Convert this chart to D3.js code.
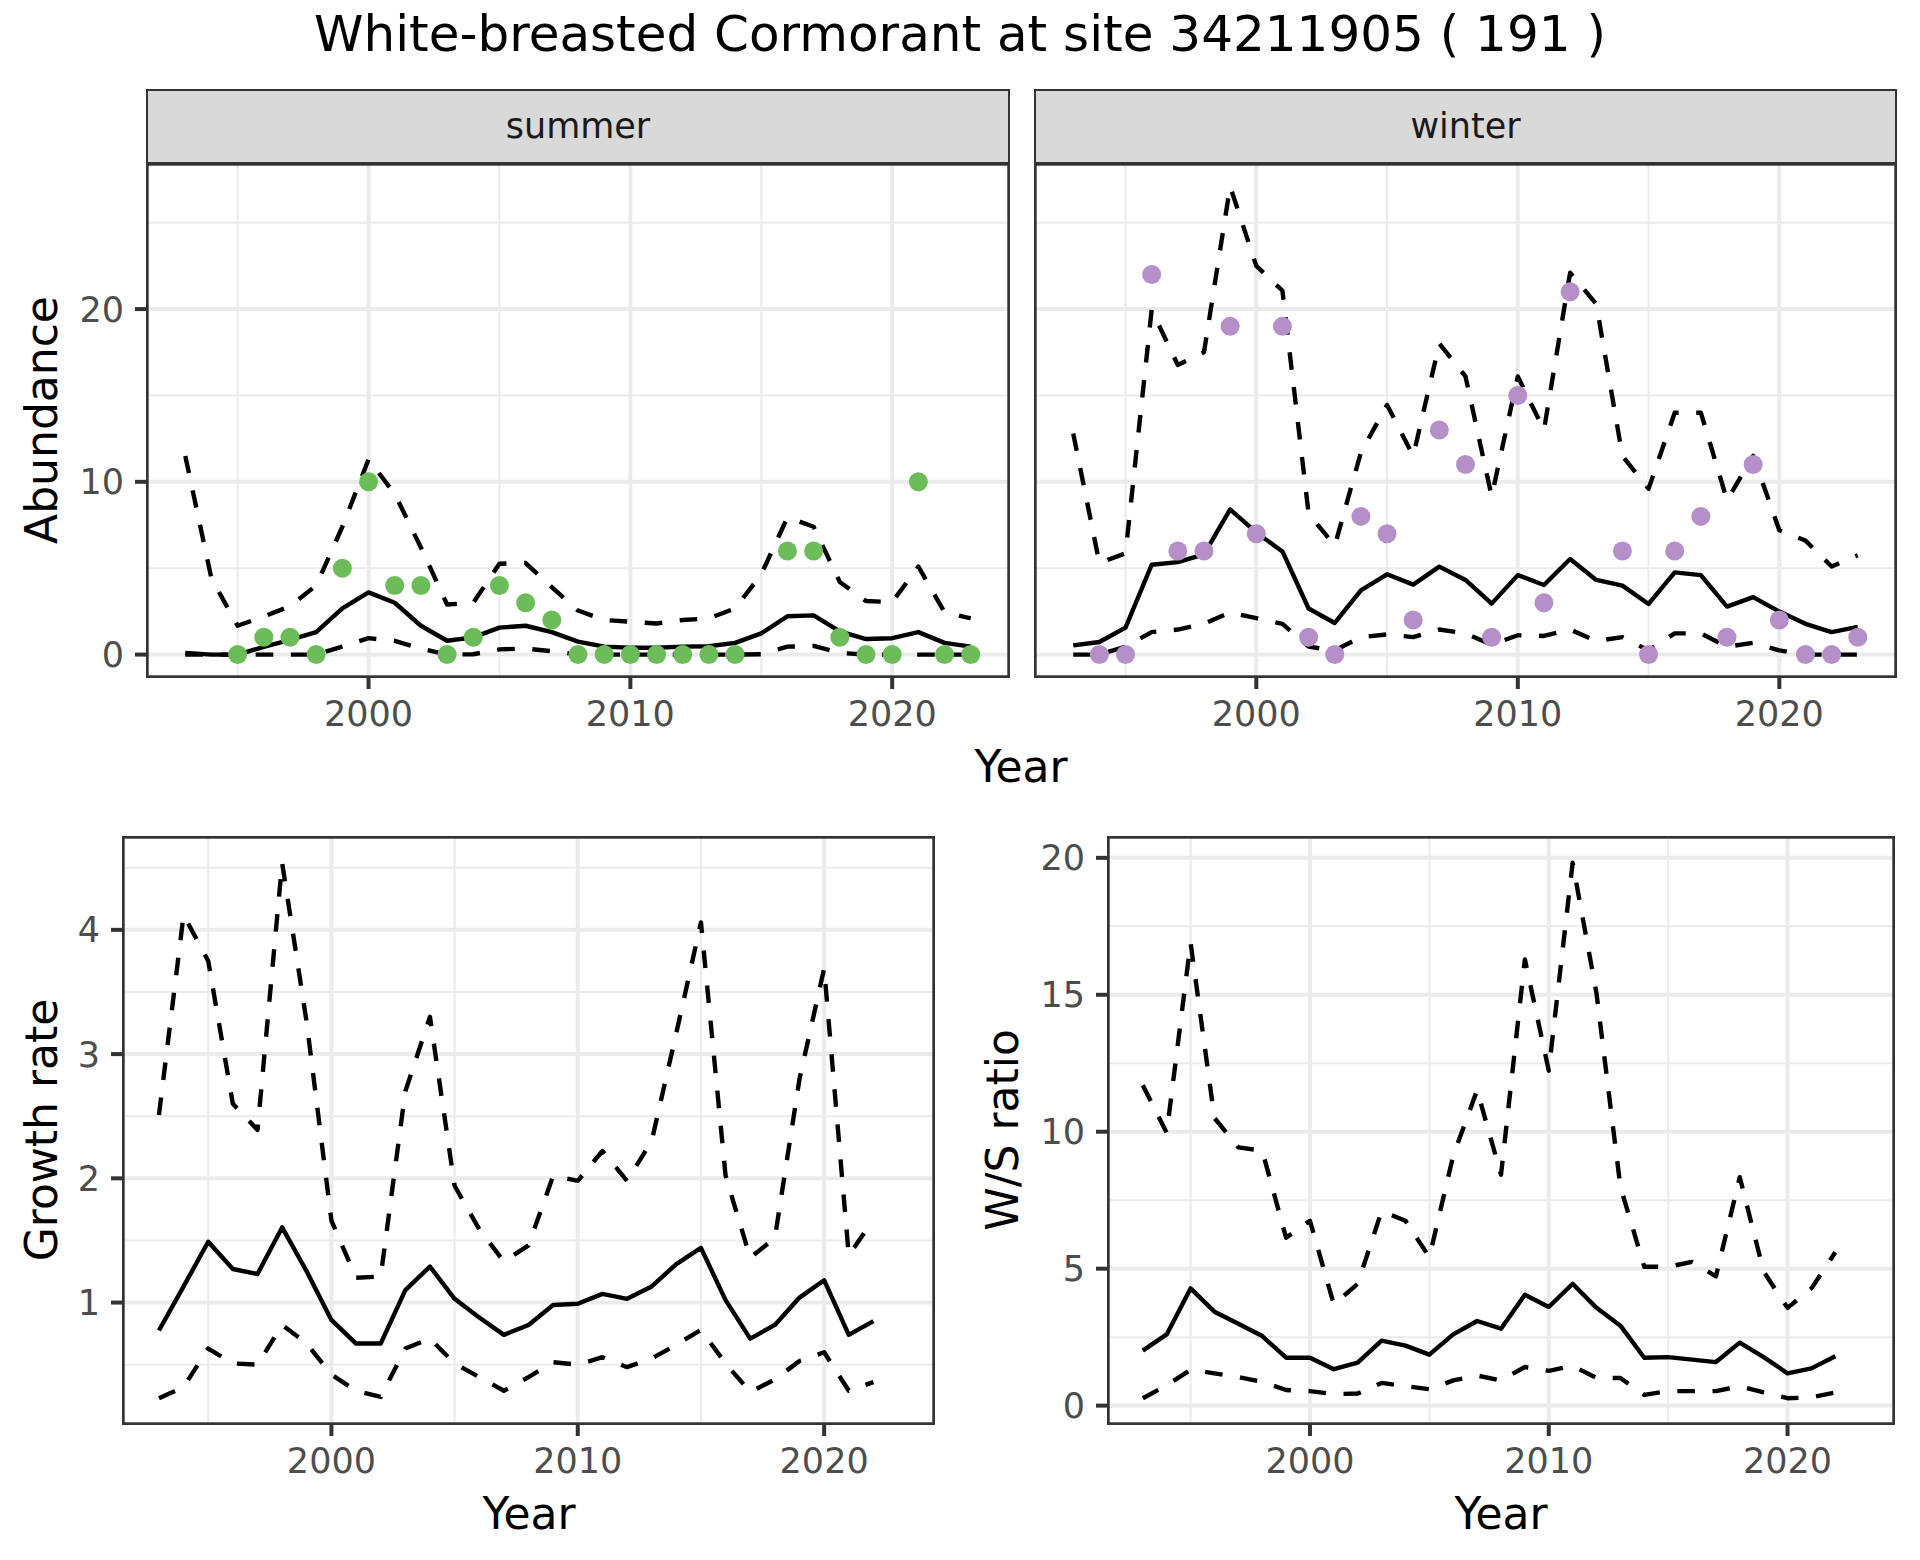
<!DOCTYPE html>
<html>
<head>
<meta charset="utf-8">
<script src="https://cdn.jsdelivr.net/npm/d3@7"></script>
<style>
  body { margin: 0; background: #fff; }
  svg { display: block; font-family: "DejaVu Sans", sans-serif; }
</style>
</head>
<body>
<svg id="chart"></svg>
<script>
// years of the modelled series
const years = [1993, 1994, 1995, 1996, 1997, 1998, 1999, 2000, 2001, 2002, 2003, 2004, 2005, 2006, 2007,
  2008, 2009, 2010, 2011, 2012, 2013, 2014, 2015, 2016, 2017, 2018, 2019, 2020, 2021, 2022, 2023];

// summer abundance
const summerMed = [0.1, 0.0, 0.0, 0.45, 0.85, 1.3, 2.67, 3.6, 3.0, 1.67, 0.8, 1.0, 1.56, 1.67, 1.3, 0.75,
  0.46, 0.4, 0.4, 0.46, 0.48, 0.68, 1.23, 2.22, 2.27, 1.34, 0.9, 0.95, 1.3, 0.68, 0.46];
const summerHi = [11.5, 4.4, 1.67, 2.2, 2.8, 4.0, 7.4, 11.3, 9.3, 6.2, 2.9, 3.0, 5.26, 5.3, 3.9, 2.55,
  2.0, 1.9, 1.8, 2.0, 2.1, 2.67, 4.65, 7.95, 7.4, 4.2, 3.1, 3.04, 5.1, 2.45, 2.1];
const summerLo = [0, 0, 0, 0, 0, 0, 0.46, 0.95, 0.8, 0.35, 0, 0.02, 0.3, 0.35, 0.2, 0,
  0, 0, 0, 0, 0, 0, 0.02, 0.46, 0.5, 0.1, 0, 0, 0, 0, 0];
const summerObsYears = [1995, 1996, 1997, 1998, 1999, 2000, 2001, 2002, 2003, 2004, 2005, 2006, 2007, 2008,
  2009, 2010, 2011, 2012, 2013, 2014, 2016, 2017, 2018, 2019, 2020, 2021, 2022, 2023];
const summerCounts = [0, 1, 1, 0, 5, 10, 4, 4, 0, 1, 4, 3, 2, 0,
  0, 0, 0, 0, 0, 0, 6, 6, 1, 0, 0, 10, 0, 0];

// winter abundance
const winterMed = [0.53, 0.73, 1.56, 5.2, 5.35, 5.8, 8.4, 7.07, 5.97, 2.67, 1.83, 3.72, 4.65, 4.05, 5.09, 4.32,
  2.95, 4.6, 4.03, 5.53, 4.32, 3.99, 2.93, 4.76, 4.6, 2.78, 3.33, 2.49, 1.78, 1.3, 1.6];
const winterHi = [12.8, 5.3, 5.86, 19.96, 16.76, 17.5, 27.1, 22.5, 21.06, 8.17, 6.3, 11.7, 14.45, 11.5, 18.0, 16.1,
  9.16, 16.1, 13.0, 22.1, 20.3, 11.5, 9.6, 14.0, 14.0, 8.94, 11.5, 7.2, 6.6, 5.1, 5.75];
const winterLo = [0, 0, 0.46, 1.3, 1.45, 1.78, 2.44, 2.11, 1.78, 0.46, 0.24, 1.01, 1.17, 1.01, 1.45, 1.23,
  0.57, 1.12, 1.08, 1.45, 0.79, 1.01, 0.24, 1.23, 1.23, 0.46, 0.68, 0.24, 0, 0, 0];
const winterObsYears = [1994, 1995, 1996, 1997, 1998, 1999, 2000, 2001, 2002, 2003, 2004, 2005, 2006, 2007,
  2008, 2009, 2010, 2011, 2012, 2014, 2015, 2016, 2017, 2018, 2019, 2020, 2021, 2022, 2023];
const winterCounts = [0, 0, 22, 6, 6, 19, 7, 19, 1, 0, 8, 7, 2, 13,
  11, 1, 15, 3, 21, 6, 0, 6, 8, 1, 11, 2, 0, 0, 1];

// growth rate and W/S ratio, 1993-2022
const rateYears = [1993, 1994, 1995, 1996, 1997, 1998, 1999, 2000, 2001, 2002, 2003, 2004, 2005, 2006, 2007,
  2008, 2009, 2010, 2011, 2012, 2013, 2014, 2015, 2016, 2017, 2018, 2019, 2020, 2021, 2022];
const growthMed = [0.775, 1.13, 1.49, 1.27, 1.23, 1.605, 1.25, 0.86, 0.67, 0.67, 1.1, 1.29, 1.03, 0.88, 0.74,
  0.82, 0.98, 0.99, 1.07, 1.03, 1.13, 1.31, 1.44, 1.02, 0.71, 0.82, 1.04, 1.18, 0.74, 0.85];
const growthHi = [2.51, 4.12, 3.75, 2.6, 2.39, 4.54, 3.25, 1.66, 1.2, 1.21, 2.7, 3.3, 1.94, 1.59, 1.33,
  1.46, 2.02, 1.98, 2.22, 1.98, 2.3, 3.17, 4.06, 2.02, 1.36, 1.52, 2.8, 3.69, 1.38, 1.67];
const growthLo = [0.23, 0.32, 0.63, 0.51, 0.5, 0.82, 0.67, 0.42, 0.29, 0.24, 0.63, 0.71, 0.51, 0.4, 0.29,
  0.4, 0.52, 0.5, 0.56, 0.48, 0.55, 0.66, 0.78, 0.51, 0.28, 0.38, 0.53, 0.6, 0.29, 0.36];
const ratioMed = [2.01, 2.6, 4.28, 3.43, 2.99, 2.54, 1.75, 1.75, 1.33, 1.57, 2.37, 2.19, 1.86, 2.6, 3.09,
  2.81, 4.05, 3.6, 4.45, 3.57, 2.92, 1.75, 1.77, 1.68, 1.59, 2.3, 1.77, 1.18, 1.36, 1.8];
const ratioHi = [11.7, 9.96, 16.9, 10.5, 9.43, 9.31, 6.13, 6.75, 3.69, 4.45, 7.1, 6.75, 5.42, 9.13, 11.52,
  8.43, 16.29, 12.23, 19.82, 15.05, 7.99, 5.07, 5.07, 5.25, 4.72, 8.34, 4.89, 3.57, 4.28, 5.6];
const ratioLo = [0.27, 0.74, 1.31, 1.18, 1.04, 0.87, 0.57, 0.53, 0.42, 0.44, 0.83, 0.71, 0.6, 0.92, 1.1,
  0.92, 1.41, 1.27, 1.45, 1.01, 1.01, 0.39, 0.53, 0.53, 0.53, 0.71, 0.48, 0.27, 0.3, 0.48];

const xMajor = [2000, 2010, 2020];
const xMinor = [1995, 2005, 2015];
const abundMajor = [0, 10, 20];
const abundMinor = [5, 15, 25];
const growthMajor = [1, 2, 3, 4];
const growthMinor = [0.5, 1.5, 2.5, 3.5, 4.5];
const ratioMajor = [0, 5, 10, 15, 20];
const ratioMinor = [2.5, 7.5, 12.5, 17.5];

const titleText = 'White-breasted Cormorant at site 34211905 ( 191 )';
const summerColor = '#6cbd5a';
const winterColor = '#b58fc7';

const W = 1920, H = 1560;
const svg = d3.select('#chart').attr('width', W).attr('height', H);
svg.append('rect').attr('width', W).attr('height', H).attr('fill', '#fff');

function expand(ext) {
  const pad = (ext[1] - ext[0]) * 0.05;
  return [ext[0] - pad, ext[1] + pad];
}

const xDomain = expand(d3.extent(years));
const abundDomain = expand(d3.extent([].concat(summerHi, summerLo, winterHi, winterLo, summerCounts, winterCounts)));
const growthDomain = expand(d3.extent([].concat(growthHi, growthLo)));
const ratioDomain = expand(d3.extent([].concat(ratioHi, ratioLo)));

let clipId = 0;

// one ggplot-like panel
function panel(opts) {
  const x = d3.scaleLinear().domain(xDomain).range([opts.x0, opts.x1]);
  const y = d3.scaleLinear().domain(opts.yDomain).range([opts.y1, opts.y0]);
  const g = svg.append('g');
  const id = 'clip' + (clipId++);
  g.append('clipPath').attr('id', id).append('rect')
    .attr('x', opts.x0).attr('y', opts.y0)
    .attr('width', opts.x1 - opts.x0).attr('height', opts.y1 - opts.y0);
  const inner = g.append('g').attr('clip-path', 'url(#' + id + ')');

  inner.selectAll('.hmin').data(opts.yMinor).join('line')
    .attr('x1', opts.x0).attr('x2', opts.x1)
    .attr('y1', d => y(d)).attr('y2', d => y(d))
    .attr('stroke', '#ebebeb').attr('stroke-width', 2);
  inner.selectAll('.vmin').data(xMinor).join('line')
    .attr('y1', opts.y0).attr('y2', opts.y1)
    .attr('x1', d => x(d)).attr('x2', d => x(d))
    .attr('stroke', '#ebebeb').attr('stroke-width', 2);
  inner.selectAll('.hmaj').data(opts.yMajor).join('line')
    .attr('x1', opts.x0).attr('x2', opts.x1)
    .attr('y1', d => y(d)).attr('y2', d => y(d))
    .attr('stroke', '#ebebeb').attr('stroke-width', 4);
  inner.selectAll('.vmaj').data(xMajor).join('line')
    .attr('y1', opts.y0).attr('y2', opts.y1)
    .attr('x1', d => x(d)).attr('x2', d => x(d))
    .attr('stroke', '#ebebeb').attr('stroke-width', 4);

  const line = d3.line().x(d => x(d[0])).y(d => y(d[1]));
  for (const s of opts.series) {
    inner.append('path')
      .datum(s.yrs.map((yr, i) => [yr, s.vals[i]]))
      .attr('d', line)
      .attr('fill', 'none')
      .attr('stroke', '#000')
      .attr('stroke-width', 4.4)
      .attr('stroke-linejoin', 'round')
      .attr('stroke-dasharray', s.dashed ? '17.6,17.6' : null);
  }
  if (opts.points) {
    inner.selectAll('circle').data(opts.points.yrs).join('circle')
      .attr('cx', d => x(d))
      .attr('cy', (d, i) => y(opts.points.vals[i]))
      .attr('r', 9.5)
      .attr('fill', opts.points.color);
  }

  g.append('rect')
    .attr('x', opts.x0 + 1.35).attr('y', opts.y0 + 1.35)
    .attr('width', opts.x1 - opts.x0 - 2.7).attr('height', opts.y1 - opts.y0 - 2.7)
    .attr('fill', 'none').attr('stroke', '#333333').attr('stroke-width', 2.7);

  // x axis
  g.selectAll('.xt').data(xMajor).join('line')
    .attr('x1', d => x(d)).attr('x2', d => x(d))
    .attr('y1', opts.y1).attr('y2', opts.y1 + 11)
    .attr('stroke', '#333333').attr('stroke-width', 4);
  g.selectAll('.xl').data(xMajor).join('text')
    .attr('x', d => x(d)).attr('y', opts.y1 + 48)
    .attr('text-anchor', 'middle')
    .attr('font-size', 35).attr('fill', '#4d4d4d')
    .text(d => d);

  // y axis
  if (opts.yAxis) {
    g.selectAll('.yt').data(opts.yMajor).join('line')
      .attr('x1', opts.x0 - 11).attr('x2', opts.x0)
      .attr('y1', d => y(d)).attr('y2', d => y(d))
      .attr('stroke', '#333333').attr('stroke-width', 4);
    g.selectAll('.yl').data(opts.yMajor).join('text')
      .attr('x', opts.x0 - 22).attr('y', d => y(d))
      .attr('dy', '0.36em')
      .attr('text-anchor', 'end')
      .attr('font-size', 35).attr('fill', '#4d4d4d')
      .text(d => d);
  }

  if (opts.strip) {
    g.append('rect')
      .attr('x', opts.x0 + 1).attr('y', opts.y0 - 73)
      .attr('width', opts.x1 - opts.x0 - 2).attr('height', 73)
      .attr('fill', '#d9d9d9').attr('stroke', '#333333').attr('stroke-width', 2);
    g.append('text')
      .attr('x', (opts.x0 + opts.x1) / 2).attr('y', opts.y0 - 25)
      .attr('text-anchor', 'middle')
      .attr('font-size', 35).attr('fill', '#1a1a1a')
      .text(opts.strip);
  }
  return { x, y };
}

function yTitle(text, x, yc) {
  svg.append('text')
    .attr('transform', 'translate(' + x + ',' + yc + ') rotate(-90)')
    .attr('text-anchor', 'middle')
    .attr('font-size', 44).attr('fill', '#000')
    .text(text);
}
function xTitle(text, xc, y) {
  svg.append('text')
    .attr('x', xc).attr('y', y)
    .attr('text-anchor', 'middle')
    .attr('font-size', 44).attr('fill', '#000')
    .text(text);
}

svg.append('text')
  .attr('x', 960).attr('y', 51)
  .attr('text-anchor', 'middle')
  .attr('font-size', 50).attr('fill', '#000')
  .text(titleText);

// top row: abundance facets
panel({
  x0: 146, x1: 1010, y0: 163, y1: 678,
  yDomain: abundDomain, yMajor: abundMajor, yMinor: abundMinor, yAxis: true,
  strip: 'summer',
  series: [
    { yrs: years, vals: summerHi, dashed: true },
    { yrs: years, vals: summerLo, dashed: true },
    { yrs: years, vals: summerMed, dashed: false }
  ],
  points: { yrs: summerObsYears, vals: summerCounts, color: summerColor }
});
panel({
  x0: 1034, x1: 1897, y0: 163, y1: 678,
  yDomain: abundDomain, yMajor: abundMajor, yMinor: abundMinor, yAxis: false,
  strip: 'winter',
  series: [
    { yrs: years, vals: winterHi, dashed: true },
    { yrs: years, vals: winterLo, dashed: true },
    { yrs: years, vals: winterMed, dashed: false }
  ],
  points: { yrs: winterObsYears, vals: winterCounts, color: winterColor }
});
yTitle('Abundance', 57, 420);
xTitle('Year', 1021, 782);

// bottom row
panel({
  x0: 122, x1: 935, y0: 836, y1: 1425,
  yDomain: growthDomain, yMajor: growthMajor, yMinor: growthMinor, yAxis: true,
  series: [
    { yrs: rateYears, vals: growthHi, dashed: true },
    { yrs: rateYears, vals: growthLo, dashed: true },
    { yrs: rateYears, vals: growthMed, dashed: false }
  ]
});
yTitle('Growth rate', 57, 1130);
xTitle('Year', 529, 1529);

panel({
  x0: 1107, x1: 1895, y0: 836, y1: 1425,
  yDomain: ratioDomain, yMajor: ratioMajor, yMinor: ratioMinor, yAxis: true,
  series: [
    { yrs: rateYears, vals: ratioHi, dashed: true },
    { yrs: rateYears, vals: ratioLo, dashed: true },
    { yrs: rateYears, vals: ratioMed, dashed: false }
  ]
});
yTitle('W/S ratio', 1018, 1130);
xTitle('Year', 1501, 1529);
</script>
</body>
</html>
